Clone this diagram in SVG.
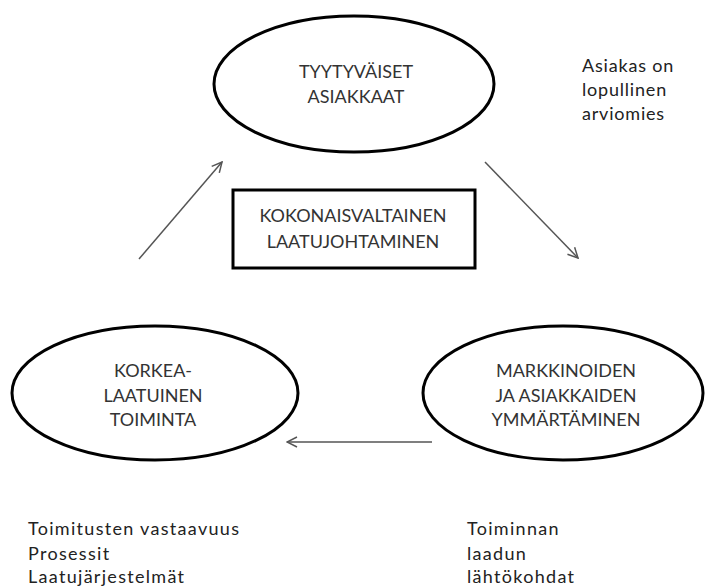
<svg xmlns="http://www.w3.org/2000/svg" width="705" height="586" viewBox="0 0 705 586">
  <defs>
    <marker id="arr" viewBox="0 0 12 12" refX="11" refY="6" markerWidth="12" markerHeight="12" markerUnits="userSpaceOnUse" orient="auto">
      <path d="M1,1 L11,6 L1,11" fill="none" stroke="#555" stroke-width="1.5"/>
    </marker>
    <style>
      .node { fill: #fff; stroke: #000; stroke-width: 3; }
      .lbl { font-family: Lato, "Liberation Sans", sans-serif; font-size: 18px; fill: #333; text-anchor: middle; }
      .note { font-family: Lato, "Liberation Sans", sans-serif; font-size: 18px; fill: #222; letter-spacing: 0.8px; }
      .wide { letter-spacing: 1.3px; }
      .conn { stroke: #555; stroke-width: 1.5; fill: none; marker-end: url(#arr); }
    </style>
  </defs>
  <rect width="705" height="586" fill="#fff"/>
  <g id="connectors">
    <line class="conn" x1="139" y1="259" x2="222" y2="162"/>
    <line class="conn" x1="485" y1="162" x2="578" y2="258"/>
    <line class="conn" x1="432" y1="442" x2="287" y2="442"/>
  </g>
  <g id="tyytyvaiset">
    <ellipse class="node" cx="354" cy="84" rx="140" ry="68"/>
    <text class="lbl" x="356" y="78">TYYTYVÄISET</text>
    <text class="lbl" x="356" y="103">ASIAKKAAT</text>
  </g>
  <g id="tqm">
    <rect class="node" x="233" y="190" width="242" height="78"/>
    <text class="lbl" x="353" y="222">KOKONAISVALTAINEN</text>
    <text class="lbl" x="353" y="248">LAATUJOHTAMINEN</text>
  </g>
  <g id="korkealaatuinen">
    <ellipse class="node" cx="155" cy="393" rx="143" ry="67"/>
    <text class="lbl" x="153" y="377">KORKEA-</text>
    <text class="lbl" x="153" y="402">LAATUINEN</text>
    <text class="lbl" x="153" y="426">TOIMINTA</text>
  </g>
  <g id="markkinoiden">
    <ellipse class="node" cx="563" cy="393" rx="140" ry="67"/>
    <text class="lbl" x="566" y="377">MARKKINOIDEN</text>
    <text class="lbl" x="566" y="402">JA ASIAKKAIDEN</text>
    <text class="lbl" x="566" y="426">YMMÄRTÄMINEN</text>
  </g>
  <g id="note-asiakas">
    <text class="note" x="582" y="72">Asiakas on</text>
    <text class="note" x="582" y="96">lopullinen</text>
    <text class="note" x="582" y="120">arviomies</text>
  </g>
  <g id="note-toiminta">
    <text class="note wide" x="28" y="535">Toimitusten vastaavuus</text>
    <text class="note wide" x="28" y="560">Prosessit</text>
    <text class="note wide" x="28" y="583">Laatujärjestelmät</text>
  </g>
  <g id="note-lahtokohdat">
    <text class="note wide" x="467" y="535">Toiminnan</text>
    <text class="note wide" x="467" y="560">laadun</text>
    <text class="note wide" x="467" y="583">lähtökohdat</text>
  </g>
</svg>
